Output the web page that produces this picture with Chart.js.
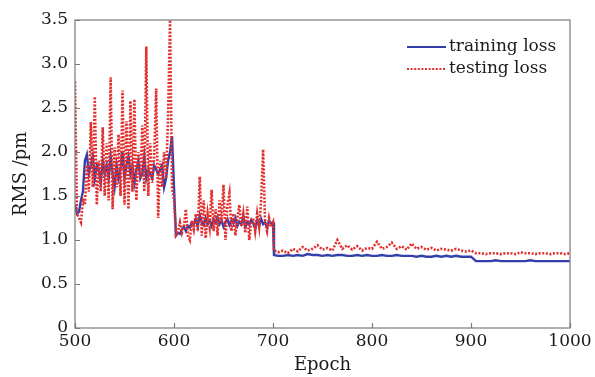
<!DOCTYPE html>
<html>
<head>
<meta charset="utf-8">
<script src="https://cdn.jsdelivr.net/npm/chart.js@4.4.0/dist/chart.umd.min.js"></script>
<style>
html,body{margin:0;padding:0;background:#fff;}
#wrap{width:595px;height:377px;position:relative;}
</style>
</head>
<body>
<div id="wrap"><canvas id="c" width="595" height="377"></canvas></div>
<script>
// Epoch ranges: 500..700 every 2 epochs, then 701 and 705..1000 every 5 epochs
const earlyStart = 500, earlyStep = 2;
const lateFirst = 701, lateStart = 705, lateStep = 5;

const trainingEarly = [
  1.40,1.30,1.32,1.45,1.55,1.90,1.97,1.75,1.85,1.95,
  1.70,1.85,1.80,1.65,1.90,1.75,1.85,1.70,1.95,1.75,
  1.60,1.85,1.70,1.80,2.00,1.70,1.85,1.95,1.75,1.85,
  1.65,1.80,1.90,1.70,1.75,1.95,1.70,1.80,1.75,1.70,
  1.85,1.80,1.75,1.80,1.85,1.60,1.70,1.90,2.00,2.18,
  1.60,1.05,1.08,1.07,1.12,1.15,1.10,1.16,1.14,1.20,
  1.18,1.24,1.15,1.28,1.20,1.17,1.25,1.18,1.22,1.16,
  1.24,1.20,1.26,1.18,1.22,1.15,1.20,1.24,1.17,1.22,
  1.19,1.25,1.16,1.21,1.18,1.27,1.15,1.20,1.17,1.23,
  1.19,1.13,1.22,1.16,1.24,1.18,1.20,1.14,1.22,1.19,
  1.20
];
const trainingLate = [
  0.83,
  0.82,0.82,0.83,0.82,0.83,0.82,0.84,0.83,0.83,0.82,
  0.83,0.82,0.83,0.83,0.82,0.82,0.83,0.82,0.83,0.82,
  0.82,0.83,0.82,0.82,0.83,0.82,0.82,0.82,0.81,0.82,
  0.81,0.81,0.82,0.81,0.82,0.81,0.82,0.81,0.81,0.81,
  0.76,0.76,0.76,0.76,0.77,0.76,0.76,0.76,0.76,0.76,
  0.76,0.77,0.76,0.76,0.76,0.76,0.76,0.76,0.76,0.76
];
const testingEarly = [
  2.80,1.30,1.25,1.20,1.45,1.40,1.85,1.55,2.34,1.60,
  2.63,1.40,1.90,1.55,2.28,1.50,2.10,1.45,2.85,1.35,
  2.05,1.60,2.20,1.50,2.70,1.40,2.35,1.35,2.58,1.55,
  2.60,1.45,2.00,1.70,2.30,1.55,3.20,1.50,2.10,1.65,
  1.95,2.72,1.25,1.90,1.60,2.00,1.70,2.40,3.50,1.60,
  1.45,1.06,1.10,1.20,1.08,1.15,1.35,1.05,1.00,1.22,
  1.12,1.30,1.10,1.72,1.05,1.45,1.02,1.30,1.15,1.57,
  1.10,1.35,1.05,1.45,1.20,1.63,1.00,1.40,1.53,1.10,
  1.30,1.05,1.25,1.40,1.15,1.30,1.08,1.38,1.00,1.20,
  1.25,1.10,1.30,1.15,1.45,2.03,1.20,1.10,1.25,1.15,
  1.20
];
const testingLate = [
  0.88,
  0.86,0.88,0.85,0.90,0.87,0.92,0.88,0.90,0.94,0.89,
  0.91,0.88,1.00,0.90,0.94,0.89,0.93,0.88,0.91,0.90,
  0.98,0.90,0.92,0.97,0.90,0.93,0.89,0.96,0.90,0.92,
  0.89,0.91,0.88,0.90,0.89,0.88,0.90,0.88,0.87,0.88,
  0.85,0.85,0.84,0.85,0.85,0.84,0.85,0.85,0.84,0.86,
  0.85,0.85,0.84,0.85,0.85,0.84,0.85,0.85,0.84,0.85
];
const xTicks = [500,600,700,800,900,1000];
const yTicks = [0,0.5,1.0,1.5,2.0,2.5,3.0,3.5];
const seriesLabels = ['training loss','testing loss'];

function epochsFor(earlyLen, lateLen){
  const e = [];
  for (let i=0;i<earlyLen;i++) e.push(earlyStart + i*earlyStep);
  e.push(lateFirst);
  for (let i=0;i<lateLen-1;i++) e.push(lateStart + i*lateStep);
  return e;
}
function toPoints(early, late){
  const ep = epochsFor(early.length, late.length);
  const vals = early.concat(late);
  return vals.map((v,i)=>({x:ep[i], y:v}));
}

const FONT = "'DejaVu Serif', serif";
const BLUE = '#3340aa';
const RED = '#e2302f';
const FRAME = '#7a7a7a';

const framePlugin = {
  id:'frame',
  afterDatasetsDraw(chart){
    const {ctx, chartArea:a, scales} = chart;
    ctx.save();
    ctx.strokeStyle = FRAME; ctx.lineWidth = 1.2;
    ctx.strokeRect(a.left, a.top, a.right-a.left, a.bottom-a.top);
    ctx.beginPath();
    xTicks.forEach(t=>{
      const px = Math.round(scales.x.getPixelForValue(t))+0.5;
      ctx.moveTo(px, a.bottom); ctx.lineTo(px, a.bottom-5);
    });
    yTicks.forEach(t=>{
      const py = Math.round(scales.y.getPixelForValue(t))+0.5;
      ctx.moveTo(a.left, py); ctx.lineTo(a.left+5, py);
    });
    ctx.stroke();
    // legend
    const items = chart.data.datasets;
    const lx0 = 407, lx1 = 446, tx = 449;
    const ys = [47, 69];
    ctx.font = "17px " + FONT;
    ctx.textBaseline = 'middle';
    ctx.fillStyle = '#1a1a1a';
    items.forEach((ds,i)=>{
      ctx.beginPath();
      ctx.strokeStyle = ds.borderColor;
      ctx.lineWidth = 2;
      ctx.setLineDash(ds.borderDash || []);
      ctx.moveTo(lx0, ys[i]); ctx.lineTo(lx1, ys[i]);
      ctx.stroke();
      ctx.setLineDash([]);
      ctx.fillText(ds.label, tx, ys[i]);
    });
    ctx.restore();
  }
};

new Chart(document.getElementById('c'), {
  type:'line',
  data:{
    datasets:[
      {label:seriesLabels[0], data:toPoints(trainingEarly, trainingLate), borderColor:BLUE, borderWidth:2.4, pointRadius:0, tension:0, fill:false, order:1},
      {label:seriesLabels[1], data:toPoints(testingEarly, testingLate), borderColor:RED, borderWidth:2.6, borderDash:[2,1.6], pointRadius:0, tension:0, fill:false, order:0}
    ]
  },
  options:{
    responsive:false, animation:false,
    layout:{padding:{left:0, right:25, top:20, bottom:0}},
    plugins:{legend:{display:false}, tooltip:{enabled:false}},
    scales:{
      x:{
        type:'linear', min:500, max:1000,
        afterBuildTicks(s){ s.ticks = xTicks.map(v=>({value:v})); },
        afterFit(s){ s.height = 49; },
        grid:{display:false, drawTicks:false},
        border:{display:false},
        ticks:{padding:3, color:'#1a1a1a', font:{family:FONT, size:17}, maxRotation:0, callback:v=>String(v)},
        title:{display:true, text:'Epoch', color:'#1a1a1a', font:{family:FONT, size:18}, padding:{top:0,bottom:1}}
      },
      y:{
        min:0, max:3.5,
        afterBuildTicks(s){ s.ticks = yTicks.map(v=>({value:v})); },
        afterFit(s){ s.width = 75; },
        grid:{display:false, drawTicks:false},
        border:{display:false},
        ticks:{padding:7, color:'#1a1a1a', font:{family:FONT, size:17}, callback:v=> v===0 ? '0' : Number(v).toFixed(1)},
        title:{display:true, text:'RMS /pm', color:'#1a1a1a', font:{family:FONT, size:18}, padding:{top:11,bottom:0}}
      }
    }
  },
  plugins:[framePlugin]
});
</script>
</body>
</html>
